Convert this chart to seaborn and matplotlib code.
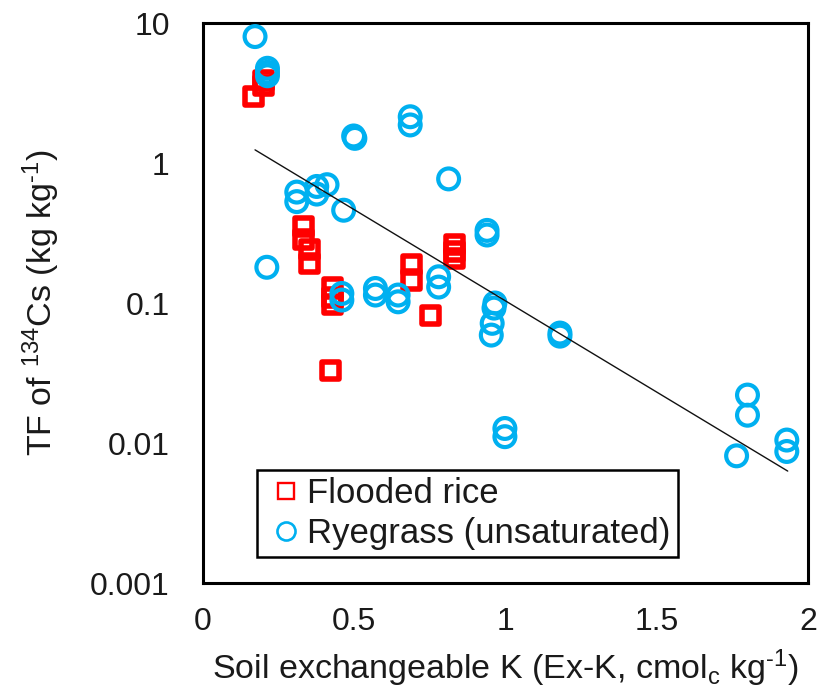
import numpy as np
import pandas as pd
import matplotlib
matplotlib.use("Agg")
import matplotlib.pyplot as plt
from matplotlib.lines import Line2D
from matplotlib.ticker import FixedLocator, FixedFormatter
import seaborn as sns

# ---- data ----
rice_x = [0.200, 0.200, 0.168, 0.332, 0.332, 0.352, 0.352, 0.429, 0.429, 0.429,
          0.423, 0.688, 0.688, 0.752, 0.832, 0.832, 0.832]
rice_y = [3.9, 3.55, 3.0, 0.35, 0.285, 0.243, 0.192, 0.128, 0.110, 0.098,
          0.033, 0.187, 0.146, 0.082, 0.262, 0.233, 0.207]

rye_x = [0.172, 0.213, 0.213, 0.213, 0.685, 0.685, 0.498, 0.502, 0.812,
         0.310, 0.310, 0.376, 0.376, 0.410, 0.465, 0.211,
         0.459, 0.459, 0.570, 0.570, 0.645, 0.645, 0.779, 0.779,
         0.939, 0.939, 0.965, 0.962, 0.956, 0.953, 1.180, 1.180,
         0.998, 0.998, 1.800, 1.800, 1.764, 1.930, 1.930]
rye_y = [8.0, 4.75, 4.45, 4.2, 2.14, 1.87, 1.56, 1.50, 0.77,
         0.62, 0.53, 0.68, 0.60, 0.70, 0.46, 0.18,
         0.117, 0.105, 0.127, 0.114, 0.114, 0.102, 0.154, 0.130,
         0.33, 0.306, 0.100, 0.092, 0.0716, 0.059, 0.061, 0.058,
         0.0127, 0.0111, 0.022, 0.0158, 0.0081, 0.0105, 0.0087]

# exponential trend line  y = a * exp(b * x)
trend_a = 2.08
trend_b = -3.0
trend_range = [0.172, 1.933]

x_ticks = [0, 0.5, 1, 1.5, 2]
x_tick_labels = ["0", "0.5", "1", "1.5", "2"]
y_ticks = [0.001, 0.01, 0.1, 1, 10]
y_tick_labels = ["0.001", "0.01", "0.1", "1", "10"]

series_names = ["Flooded rice", "Ryegrass (unsaturated)"]
RED = "#FF0000"
BLUE = "#00B0F0"
TXT = "#1a1a1a"

# ---- style ----
sns.set_style("white")
plt.rcParams["font.family"] = ["Liberation Sans", "DejaVu Sans"]
plt.rcParams["mathtext.fontset"] = "custom"
plt.rcParams["mathtext.rm"] = "Liberation Sans"
plt.rcParams["mathtext.it"] = "Liberation Sans"
plt.rcParams["mathtext.default"] = "regular"

fig = plt.figure(figsize=(8.31, 6.93), dpi=100)
ax = fig.add_axes([0.2443, 0.1587, 0.7280, 0.8081])

rice_df = pd.DataFrame({"x": rice_x, "y": rice_y})
rye_df = pd.DataFrame({"x": rye_x, "y": rye_y})

sns.scatterplot(data=rice_df, x="x", y="y", ax=ax, marker="s", s=150,
                facecolor="none", edgecolor=RED, linewidth=4.0, zorder=3)
sns.scatterplot(data=rye_df, x="x", y="y", ax=ax, marker="o", s=225,
                facecolor="none", edgecolor=BLUE, linewidth=3.0, zorder=4)

tx = np.linspace(trend_range[0], trend_range[1], 60)
trend_df = pd.DataFrame({"x": tx, "y": trend_a * np.exp(trend_b * tx)})
sns.lineplot(data=trend_df, x="x", y="y", ax=ax, color="#111111", lw=1.0, zorder=5)

ax.set_yscale("log")
ax.set_xlim(0, 2)
ax.set_ylim(0.001, 10)
ax.xaxis.set_major_locator(FixedLocator(x_ticks))
ax.xaxis.set_major_formatter(FixedFormatter(x_tick_labels))
ax.yaxis.set_major_locator(FixedLocator(y_ticks))
ax.yaxis.set_major_formatter(FixedFormatter(y_tick_labels))
ax.yaxis.set_minor_locator(FixedLocator([]))

ax.tick_params(axis="both", which="major", direction="in", length=7, width=1.6,
               color="black", labelsize=23, labelcolor=TXT)
ax.tick_params(axis="y", pad=24)
ax.tick_params(axis="x", pad=17)
ax.tick_params(which="minor", left=False, bottom=False)
for sp in ax.spines.values():
    sp.set_linewidth(2.2)
    sp.set_color("black")
    sp.set_visible(True)

ax.set_xlabel(r"Soil exchangeable K (Ex-K, cmol$_{c}$ kg$^{\text{-1}}$)", fontsize=24.5,
              color=TXT, labelpad=8)
ax.set_ylabel(r"TF of $^{134}$Cs (kg kg$^{\text{-1}}$)", fontsize=24.5, color=TXT,
              labelpad=20)

handles = [
    Line2D([], [], ls="none", marker="s", markersize=12, markerfacecolor="none",
           markeredgecolor=RED, markeredgewidth=1.7),
    Line2D([], [], ls="none", marker="o", markersize=13, markerfacecolor="none",
           markeredgecolor=BLUE, markeredgewidth=1.9),
]
leg = ax.legend(handles, series_names, loc="lower left",
                bbox_to_anchor=(0.089, 0.046), borderaxespad=0, fontsize=25,
                frameon=True, fancybox=False, framealpha=1, edgecolor="black",
                handlelength=1.25, handletextpad=0.0, borderpad=0.2,
                labelspacing=0.22)
leg.get_frame().set_linewidth(1.8)
for t in leg.get_texts():
    t.set_color(TXT)

fig.savefig("out.png", dpi=100)
